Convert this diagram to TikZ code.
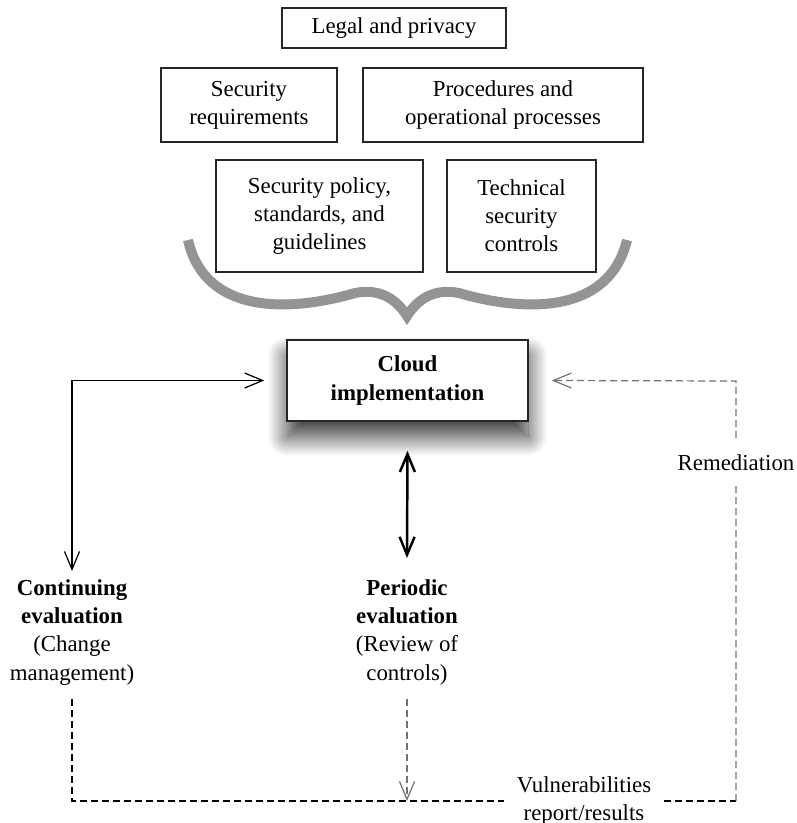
\documentclass[tikz,border=0pt]{standalone}
\usepackage{fontspec}
\setmainfont{Liberation Serif}
\usetikzlibrary{arrows.meta,shadows.blur}

\tikzset{
  box/.style={draw=black!85, line width=0.7pt, align=center, inner sep=0pt,
    font=\fontsize{13}{16}\selectfont},
  cloudbox/.style={box, line width=0.9pt, fill=white, font=\fontsize{13}{16}\selectfont\bfseries,
    blur shadow={shadow xshift=0pt, shadow yshift=-9pt, shadow blur radius=11pt,
      shadow blur steps=30, shadow opacity=80}},
  evaltext/.style={align=center, inner sep=2pt, font=\fontsize{13}{16}\selectfont},
  dashline/.style={dash pattern=on 0.14cm off 0.08cm, line width=0.7pt},
  >={Straight Barb[length=0.36cm,width=0.3cm]}
}

\begin{document}
\begin{tikzpicture}[x=0.02cm,y=-0.02cm]
    \useasboundingbox (0,0) rectangle (796,823);
    % boxes
    \node[box, minimum width=224*0.02cm, minimum height=40*0.02cm] (legal) at (394,28) {Legal and privacy};
    \node[box, minimum width=176*0.02cm, minimum height=74*0.02cm] (secreq) at (249,105) {Security\\requirements};
    \node[box, minimum width=280*0.02cm, minimum height=74*0.02cm] (proc) at (503,105) {Procedures and\\operational processes};
    \node[box, minimum width=207*0.02cm, minimum height=112*0.02cm] (policy) at (319.5,216) {Security policy,\\standards, and\\guidelines};
    \node[box, minimum width=149*0.02cm, minimum height=112*0.02cm] (tech) at (521.5,216) {Technical\\security\\controls};

    % brace
    \draw [line width=0.2cm, black!42, line join=miter]
        (188,240) .. controls (205,315) and (290,312) .. (355,293)
        .. controls (385,287) and (400,305) .. (407,316)
        .. controls (414,305) and (429,287) .. (459,293)
        .. controls (524,312) and (609,315) .. (627,240);

    % cloud
    \node[cloudbox, minimum width=241*0.02cm, minimum height=81*0.02cm] (cloud) at (407.5,380.5) {Cloud\\implementation};

    % evaluations
    \node[evaltext, anchor=north] (cont) at (72,576) {\textbf{Continuing}\\\textbf{evaluation}\\(Change\\management)};
    \node[evaltext, anchor=north] (periodic) at (407,576) {\textbf{Periodic}\\\textbf{evaluation}\\(Review of\\controls)};
    \node[evaltext, inner xsep=0.25cm] (vuln) at (584,801) {Vulnerabilities\\report/results};
    \coordinate (rc) at (736,381);

    % arrows
    \draw [<->, line width=0.7pt, shorten <=0.1cm] (cont.north) |- ([xshift=-0.44cm]cloud.west);
    \draw [<->, line width=1.4pt] ([yshift=-0.58cm]cloud.south) -- ([yshift=0.36cm]periodic.north);
    \draw [dashline, shorten <=0.2cm] (cont.south) |- (vuln.west);
    \draw [dashline, black!55, ->, shorten <=0.2cm] (periodic.south) -- (periodic.south |- vuln.west);
    \draw [dashline] (vuln.east) -- (vuln.east -| rc);
    \draw [dashline, black!55, ->] (vuln.east -| rc) -- (rc) -- ([xshift=0.46cm]cloud.east);
    \node[evaltext, fill=white, inner ysep=0.3cm] (remed) at (736,463) {Remediation};
\end{tikzpicture}
\end{document}
